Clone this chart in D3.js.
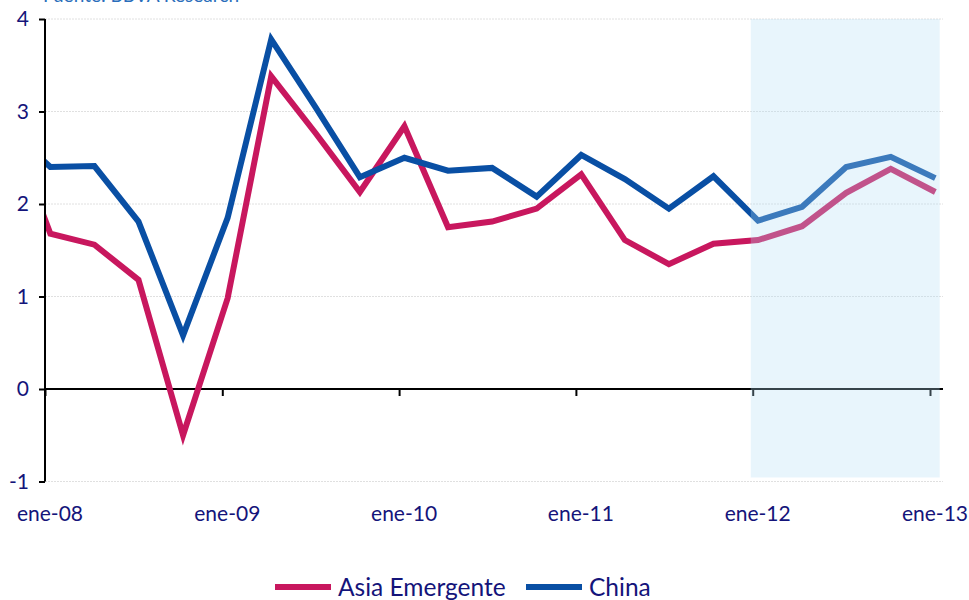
<!DOCTYPE html>
<html>
<head>
<meta charset="utf-8">
<script src="https://cdn.jsdelivr.net/npm/d3@7"></script>
<style>
  body { margin: 0; background: #fff; }
  svg { display: block; font-family: Lato, "Open Sans", sans-serif; }
</style>
</head>
<body>
<svg id="Target" width="969" height="600"></svg>
<script>
// quarterly dates (first one sits left of the axis and is clipped)
const dates = ["2007-10-12", "2008-01-12", "2008-04-12", "2008-07-12", "2008-10-12",
    "2009-01-12", "2009-04-12", "2009-07-12", "2009-10-12",
    "2010-01-12", "2010-04-12", "2010-07-12", "2010-10-12",
    "2011-01-12", "2011-04-12", "2011-07-12", "2011-10-12",
    "2012-01-12", "2012-04-12", "2012-07-12", "2012-10-12", "2013-01-12"];

const asiaValues = [2.95, 1.68, 1.56, 1.18, -0.50,
    0.98, 3.38, 2.77, 2.13,
    2.84, 1.75, 1.81, 1.95,
    2.32, 1.61, 1.35, 1.57,
    1.61, 1.76, 2.12, 2.38, 2.13];

const chinaValues = [2.85, 2.40, 2.41, 1.81, 0.58,
    1.85, 3.78, 3.05, 2.29,
    2.50, 2.36, 2.39, 2.08,
    2.53, 2.27, 1.95, 2.30,
    1.82, 1.97, 2.40, 2.51, 2.28];

const seriesNames = ["Asia Emergente", "China"];
const seriesColors = ["#c8175e", "#094fa4"];
const yTicks = [-1, 0, 1, 2, 3, 4];
const xTicks = ["2008-01-01", "2009-01-01", "2010-01-01", "2011-01-01", "2012-01-01", "2013-01-01"];
const xTickLabels = ["ene-08", "ene-09", "ene-10", "ene-11", "ene-12", "ene-13"];
const forecastPeriod = ["2011-12-28", "2013-01-21"];
const sourceNote = "Fuente: BBVA Research";

const parse = d3.utcParse("%Y-%m-%d");
const navy = "#14147a";

const svg = d3.select("#Target");

const x = d3.scaleUtc()
    .domain([parse("2008-01-01"), parse("2013-01-01")])
    .range([45, 930]);

const y = d3.scaleLinear()
    .domain([-1, 4])
    .range([481.5, 19]);

const plotRight = 943;

// source note, mostly cut off at the top
svg.append("text")
    .attr("x", 43)
    .attr("y", 2)
    .attr("font-size", 19)
    .attr("fill", "#2a6ebb")
    .text(sourceNote);

// grid lines
svg.append("g")
    .selectAll("line")
    .data(yTicks.filter(t => t !== 0))
    .enter()
    .append("line")
    .attr("x1", 45)
    .attr("x2", plotRight)
    .attr("y1", d => y(d))
    .attr("y2", d => y(d))
    .attr("stroke", "#e0e0e0")
    .attr("stroke-width", 1)
    .attr("stroke-dasharray", "2,1");

// clip lines to the plot area
svg.append("clipPath")
    .attr("id", "plotClip")
    .append("rect")
    .attr("x", 45)
    .attr("y", 0)
    .attr("width", plotRight - 45)
    .attr("height", 600);

const series = [asiaValues, chinaValues].map((values, i) => ({
    name: seriesNames[i],
    color: seriesColors[i],
    points: values.map((v, j) => ({ date: parse(dates[j]), value: v }))
}));

const line = d3.line()
    .x(d => x(d.date))
    .y(d => y(d.value));

// zero axis line
svg.append("line")
    .attr("x1", 45)
    .attr("x2", plotRight)
    .attr("y1", y(0))
    .attr("y2", y(0))
    .attr("stroke", "#000")
    .attr("stroke-width", 2);

// x axis ticks hanging below zero line
const xAxis = d3.axisBottom(x)
    .tickValues(xTicks.map(parse))
    .tickSize(7)
    .tickFormat("");

svg.append("g")
    .attr("transform", `translate(0,${y(0)})`)
    .call(xAxis)
    .call(g => g.select(".domain").remove())
    .call(g => g.selectAll(".tick line").attr("stroke", "#000").attr("stroke-width", 2));

svg.append("g")
    .attr("clip-path", "url(#plotClip)")
    .selectAll("path")
    .data(series)
    .enter()
    .append("path")
    .attr("d", d => line(d.points))
    .attr("fill", "none")
    .attr("stroke", d => d.color)
    .attr("stroke-width", 6)
    .attr("stroke-linejoin", "miter");

// forecast shading drawn on top of the lines
svg.append("rect")
    .attr("x", x(parse(forecastPeriod[0])))
    .attr("y", 19)
    .attr("width", x(parse(forecastPeriod[1])) - x(parse(forecastPeriod[0])))
    .attr("height", 477.5 - 19)
    .attr("fill", "rgb(178,222,245)")
    .attr("fill-opacity", 0.3);

// y axis
const yAxis = d3.axisLeft(y)
    .tickValues(yTicks)
    .tickSize(6)
    .tickPadding(10)
    .tickFormat(d => String(d));

svg.append("g")
    .attr("transform", "translate(45,0)")
    .call(yAxis)
    .call(g => g.select(".domain").attr("stroke", "#000").attr("stroke-width", 2).attr("d", `M0,${y(4)}V${y(-1)}`))
    .call(g => g.selectAll(".tick line").attr("stroke", "#000").attr("stroke-width", 2))
    .call(g => g.selectAll(".tick text")
        .attr("font-size", 21)
        .attr("font-family", "Lato, sans-serif")
        .attr("fill", navy));

// x tick labels (sit a little right of their ticks, as in the original)
svg.append("g")
    .selectAll("text")
    .data(xTicks)
    .enter()
    .append("text")
    .attr("x", d => x(parse(d)) + 5)
    .attr("y", 521)
    .attr("text-anchor", "middle")
    .attr("font-size", 21)
    .attr("fill", navy)
    .text((d, i) => xTickLabels[i]);

// legend
const legendX = [275, 526];
const legend = svg.append("g")
    .selectAll("g")
    .data(series)
    .enter()
    .append("g")
    .attr("transform", (d, i) => `translate(${legendX[i]},0)`);

legend.append("line")
    .attr("x1", 0)
    .attr("x2", 56)
    .attr("y1", 587)
    .attr("y2", 587)
    .attr("stroke", d => d.color)
    .attr("stroke-width", 6);

legend.append("text")
    .attr("x", 63)
    .attr("y", 596)
    .attr("font-size", 24.5)
    .attr("fill", navy)
    .text(d => d.name);
</script>
</body>
</html>
